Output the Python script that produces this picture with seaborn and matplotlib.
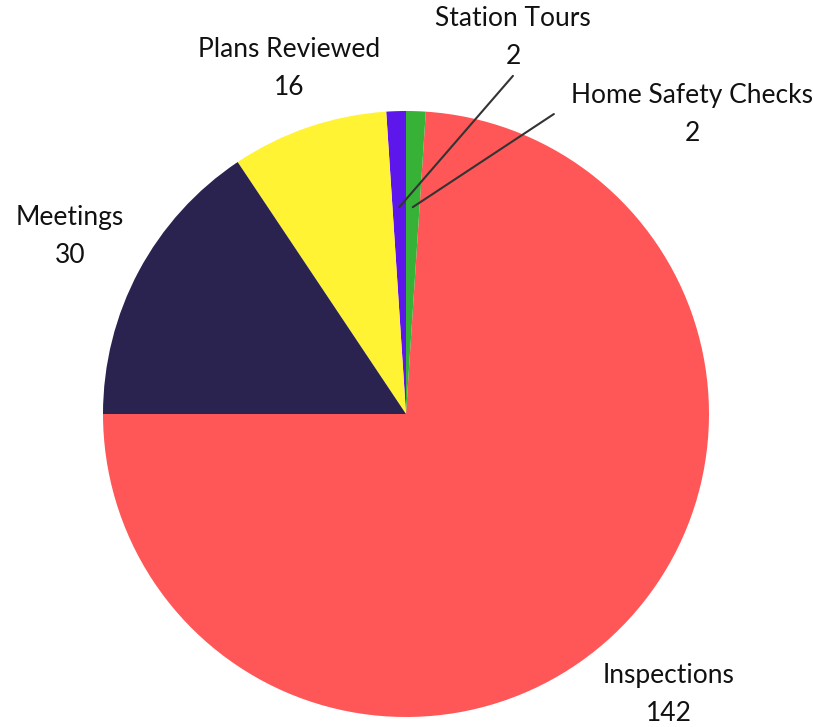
import numpy as np
import matplotlib.pyplot as plt
import seaborn as sns

# =========================
# Setup
# =========================
sns.set_theme(style="white")
plt.rcParams["font.family"] = ["Lato", "DejaVu Sans"]

# =========================
# Data
# =========================
labels = ["Inspections", "Home Safety Checks", "Station Tours", "Plans Reviewed", "Meetings"]
values = [142, 2, 2, 16, 30]
colors = ["#FF5757", "#38B236", "#5E17EB", "#FFF333", "#2A2350"]

# label centres (data units, pie radius = 1)
label_pos = {
    "Inspections": (0.868, -0.927),
    "Home Safety Checks": (0.944, 0.99),
    "Station Tours": (0.353, 1.241),
    "Plans Reviewed": (-0.386, 1.139),
    "Meetings": (-1.109, 0.587),
}
# slices that get a leader line: (line start near label)
leaders = {
    "Station Tours": (0.353, 1.116),
    "Home Safety Checks": (0.488, 0.990),
}

# =========================
# Figure
# =========================
fig = plt.figure(figsize=(8.13, 7.27), dpi=100)
ax = fig.add_axes([103 / 813, 10 / 727, 606 / 813, 606 / 727])

wedges, _ = ax.pie(
    values,
    colors=colors,
    startangle=180,
    counterclock=True,
    radius=1,
    wedgeprops=dict(linewidth=0),
)

for w, lab, val in zip(wedges, labels, values):
    x, y = label_pos[lab]
    ax.text(x, y, f"{lab}\n{val}", ha="center", va="center",
            fontsize=19, color="#111111", linespacing=1.65)
    if lab in leaders:
        mid = np.deg2rad((w.theta1 + w.theta2) / 2)
        r = 0.683
        x0, y0 = leaders[lab]
        ax.plot([x0, r * np.cos(mid)], [y0, r * np.sin(mid)],
                color="#333333", linewidth=1.5, clip_on=False)

ax.set_xlim(-1, 1)
ax.set_ylim(-1, 1)
ax.set_aspect("equal")
ax.axis("off")

# =========================
# Save
# =========================
fig.savefig("out.png", dpi=100)
plt.close(fig)
